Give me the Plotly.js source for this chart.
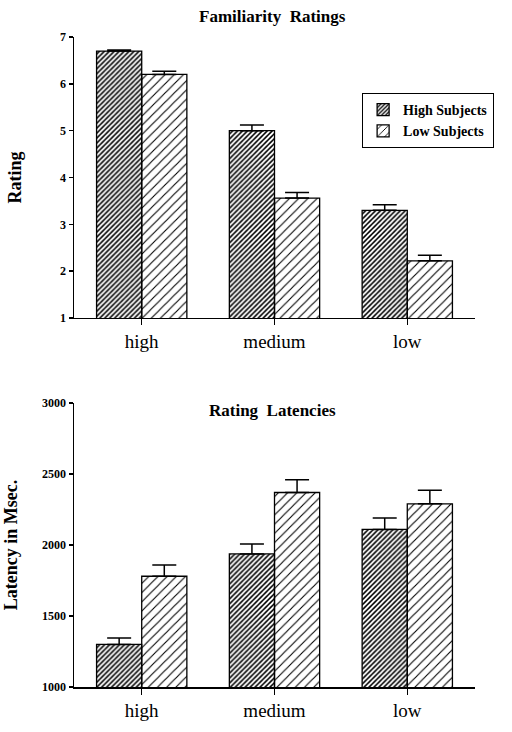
<!DOCTYPE html>
<html>
<head>
<meta charset="utf-8">
<script src="https://cdn.plot.ly/plotly-3.0.1.min.js"></script>
<style>html,body{margin:0;padding:0;background:#fff;}#chart{width:512px;height:732px;}</style>
</head>
<body>
<div id="chart"></div>
<script>
const categories = ["high", "medium", "low"];
const seriesNames = ["High Subjects", "Low Subjects"];
const ratingHigh = [6.7, 5.0, 3.3];
const ratingHighErr = [0.02, 0.12, 0.12];
const ratingLow = [6.2, 3.56, 2.22];
const ratingLowErr = [0.07, 0.12, 0.12];
const latencyHigh = [1300, 1937, 2110];
const latencyHighErr = [45, 70, 80];
const latencyLow = [1780, 2370, 2290];
const latencyLowErr = [80, 90, 95];
const ratingTicks = [1, 2, 3, 4, 5, 6, 7];
const latencyTicks = [1000, 1500, 2000, 2500, 3000];

const serif = "Liberation Serif, Times New Roman, serif";
const darkStyle = {color: "#3c3c3c", line: {color: "#000", width: 1.3},
  pattern: {shape: "/", fgcolor: "#000", size: 3.5, solidity: 0.45}};
const lightStyle = {color: "#fff", line: {color: "#000", width: 1.3},
  pattern: {shape: "/", fgcolor: "#000", size: 6.5, solidity: 0.17}};
const err = (a) => ({type: "data", array: a, arrayminus: a.map(() => 0), symmetric: false, color: "#000", thickness: 1.5, width: 12});

const traces = [
  {type: "bar", x: categories, y: ratingHigh, name: seriesNames[0], marker: darkStyle, error_y: err(ratingHighErr), xaxis: "x", yaxis: "y"},
  {type: "bar", x: categories, y: ratingLow, name: seriesNames[1], marker: lightStyle, error_y: err(ratingLowErr), xaxis: "x", yaxis: "y"},
  {type: "bar", x: categories, y: latencyHigh, name: seriesNames[0], marker: darkStyle, error_y: err(latencyHighErr), xaxis: "x2", yaxis: "y2", showlegend: false},
  {type: "bar", x: categories, y: latencyLow, name: seriesNames[1], marker: lightStyle, error_y: err(latencyLowErr), xaxis: "x2", yaxis: "y2", showlegend: false}
];

const xaxisCommon = {
  type: "category", range: [-0.51, 2.51], showline: true, linecolor: "#000", linewidth: 1.5,
  ticks: "outside", ticklen: 6, tickcolor: "#000", tickwidth: 1.5,
  tickfont: {family: serif, size: 19, color: "#000"}, showgrid: false, zeroline: false, fixedrange: true
};
const yaxisCommon = {
  showline: true, linecolor: "#000", linewidth: 1.5, ticks: "outside", ticklen: 4, tickcolor: "#000",
  tickwidth: 1.5, tickfont: {family: serif, size: 12, color: "#000", weight: "bold"},
  showgrid: false, zeroline: false, fixedrange: true
};

const layout = {
  width: 512, height: 732,
  margin: {l: 74, r: 37, t: 37, b: 45},
  paper_bgcolor: "#fff", plot_bgcolor: "#fff",
  barmode: "group", bargap: 0.32, bargroupgap: 0,
  font: {family: serif, color: "#000"},
  xaxis: Object.assign({}, xaxisCommon, {anchor: "y"}),
  xaxis2: Object.assign({}, xaxisCommon, {anchor: "y2"}),
  yaxis: Object.assign({}, yaxisCommon, {domain: [0.5677, 1], range: [1, 7], tickvals: ratingTicks, anchor: "x",
    title: {text: "Rating", font: {family: serif, size: 18, weight: "bold"}, standoff: 34}}),
  yaxis2: Object.assign({}, yaxisCommon, {domain: [0, 0.4369], range: [1000, 3000], tickvals: latencyTicks, anchor: "x2",
    title: {text: "Latency in Msec.", font: {family: serif, size: 18, weight: "bold"}, standoff: 20}}),
  legend: {x: 0.718, y: 0.914, xanchor: "left", yanchor: "top", bordercolor: "#000", borderwidth: 1.2,
    bgcolor: "#fff", font: {family: serif, size: 14, weight: "bold"}, tracegroupgap: 0, itemwidth: 30},
  annotations: [
    {text: "<b>Familiarity  Ratings</b>", xref: "paper", yref: "paper", x: 0.495, y: 1.031, xanchor: "center", yanchor: "middle", showarrow: false, font: {family: serif, size: 17}},
    {text: "<b>Rating  Latencies</b>", xref: "paper", yref: "paper", x: 0.495, y: 0.426, xanchor: "center", yanchor: "middle", showarrow: false, font: {family: serif, size: 17}}
  ],
  showlegend: true
};

Plotly.newPlot("chart", traces, layout, {displayModeBar: false, staticPlot: true});
</script>
</body>
</html>
